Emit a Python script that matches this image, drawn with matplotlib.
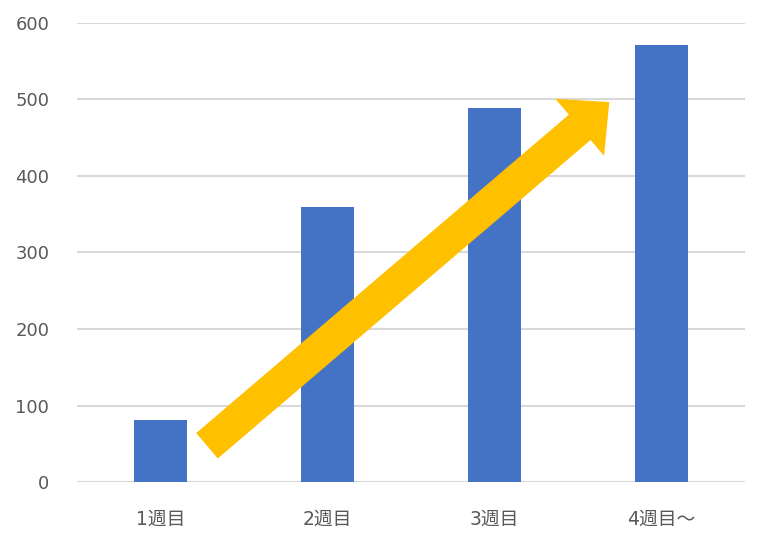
import numpy as np
import matplotlib.pyplot as plt
from matplotlib.patches import FancyArrowPatch, ArrowStyle

plt.rcParams['font.family'] = ['DejaVu Sans', 'Noto Sans CJK JP']

# データ
weeks = ['1週目', '2週目', '3週目', '4週目～']
counts = [81, 360, 489, 571]
yticks = [0, 100, 200, 300, 400, 500, 600]

fig = plt.figure(figsize=(7.69, 5.47), dpi=100)
ax = fig.add_axes([0.1001, 0.1188, 0.8687, 0.8392])

x = np.arange(len(weeks))
ax.bar(x, counts, width=0.32, color='#4472C4', zorder=2)

ax.set_xlim(-0.5, len(weeks) - 0.5)
ax.set_ylim(0, 600)
ax.set_yticks(yticks)
ax.set_xticks(x)
ax.set_xticklabels(weeks)

ax.grid(axis='y', color='#D9D9D9', linewidth=1.5, zorder=0)
for s in ax.spines.values():
    s.set_visible(False)
ax.tick_params(length=0, colors='#595959')
ax.tick_params(axis='y', pad=20, labelsize=13)
ax.tick_params(axis='x', pad=20, labelsize=13.5)

# 矢印
arrow = FancyArrowPatch((0.266, 45), (2.70, 499),
                        arrowstyle=ArrowStyle('simple', head_length=28,
                                              head_width=54, tail_width=24),
                        mutation_scale=1, color='#FFC000', lw=0, zorder=3)
ax.add_patch(arrow)

fig.savefig('out.png', dpi=100)
